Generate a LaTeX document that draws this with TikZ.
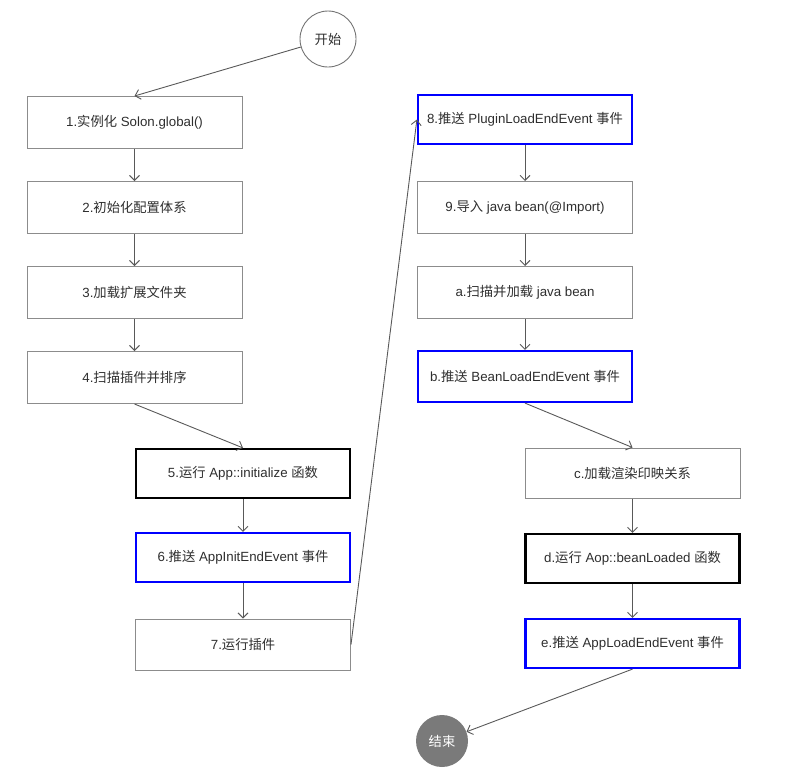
\documentclass[tikz,border=0pt]{standalone}
\usepackage{fontspec}
\setmainfont{Liberation Sans}
\newfontfamily\cjk{Noto Sans CJK SC}
\newcommand{\zh}[1]{{\cjk #1}}
\usetikzlibrary{arrows.meta}
\begin{document}
\begin{tikzpicture}[x=1pt,y=-1pt,
  font=\fontsize{13.3}{15}\selectfont,
  plain/.style={draw=black!45,line width=1pt,minimum width=215pt,minimum height=52pt,inner sep=0pt,text=black!82},
  bluebox/.style={draw=blue,line width=2.2pt,minimum width=214pt,minimum height=49pt,inner sep=0pt,text=black!82},
  blackbox/.style={draw=black,line width=2.2pt,minimum width=214pt,minimum height=49pt,inner sep=0pt,text=black!82},
  conn/.style={draw=black!65,line width=0.9pt,-{Straight Barb[length=5pt,width=10pt]}}]
\useasboundingbox (0,0) rectangle (794,772);
\node[circle,draw=black!55,line width=0.9pt,minimum size=56pt,inner sep=0pt,text=black!82] (start) at (328,39) {\zh{开始}};
\node[plain] (b1) at (134.5,122.5) {1.\zh{实例化} Solon.global()};
\node[plain] (b2) at (134.5,207.5) {2.\zh{初始化配置体系}};
\node[plain] (b3) at (134.5,292.5) {3.\zh{加载扩展文件夹}};
\node[plain] (b4) at (134.5,377.5) {4.\zh{扫描插件并排序}};
\node[blackbox] (b5) at (243,473.5) {5.\zh{运行} App::initialize \zh{函数}};
\node[bluebox] (b6) at (243,557.5) {6.\zh{推送} AppInitEndEvent \zh{事件}};
\node[plain,minimum height=51pt] (b7) at (243,644.5) {7.\zh{运行插件}};
\node[bluebox] (b8) at (525,119.5) {8.\zh{推送} PluginLoadEndEvent \zh{事件}};
\node[plain] (b9) at (525,207.5) {9.\zh{导入} java bean(@Import)};
\node[plain] (ba) at (525,292.5) {a.\zh{扫描并加载} java bean};
\node[bluebox,minimum height=51pt] (bb) at (525,376.5) {b.\zh{推送} BeanLoadEndEvent \zh{事件}};
\node[plain,minimum height=50pt] (bc) at (632.5,473) {c.\zh{加载渲染印映关系}};
\node[blackbox] (bd) at (632.5,558.5) {d.\zh{运行} Aop::beanLoaded \zh{函数}};
\node[bluebox] (be) at (632.5,643.5) {e.\zh{推送} AppLoadEndEvent \zh{事件}};
\node[circle,fill=black!52,minimum size=52pt,inner sep=0pt,text=white] (end) at (442,741) {\zh{结束}};
\draw[conn] (start) -- (b1.north);
\draw[conn] (b1) -- (b2);
\draw[conn] (b2) -- (b3);
\draw[conn] (b3) -- (b4);
\draw[conn] (b4.south) -- (b5.north);
\draw[conn] (b5) -- (b6);
\draw[conn] (b6) -- (b7);
\draw[conn] (b7.east) -- (b8.west);
\draw[conn] (b8) -- (b9);
\draw[conn] (b9) -- (ba);
\draw[conn] (ba) -- (bb);
\draw[conn] (bb.south) -- (bc.north);
\draw[conn] (bc) -- (bd);
\draw[conn] (bd) -- (be);
\draw[conn] (be.south) -- (end);
\end{tikzpicture}
\end{document}
